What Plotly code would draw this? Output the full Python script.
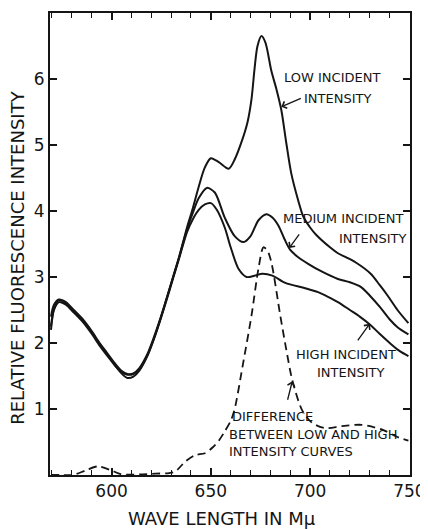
import plotly.graph_objects as go

# ---- data ----
common_x = [569.5, 571, 573.5, 577, 581, 585.5, 590, 594, 597.5, 602, 605, 608, 611,
            614, 618, 621, 624, 628, 631, 634, 638]

low_x = common_x + [641, 644, 647, 650, 654, 659, 662, 665.5, 668.5, 670.5, 672, 673.5,
                    675.5, 677.5, 680.5, 683, 685.5, 688, 690.5, 694, 696.5, 700, 703,
                    710, 714, 718, 723, 730.5, 735, 739, 744, 749.5]
low_y = [2.25, 2.52, 2.65, 2.6, 2.48, 2.34, 2.16, 1.98, 1.84, 1.65, 1.54, 1.47, 1.49,
         1.58, 1.8, 2.03, 2.3, 2.7, 3.0, 3.3, 3.75,
         4.05, 4.38, 4.66, 4.8, 4.74, 4.64, 4.78, 5.05, 5.35, 5.7, 6.15, 6.5,
         6.65, 6.55, 6.12, 5.85, 5.53, 5.03, 4.57, 4.16, 3.92, 3.75, 3.64,
         3.45, 3.36, 3.3, 3.22, 3.05, 2.88, 2.72, 2.5, 2.3]

medium_x = common_x + [641, 644, 648, 652, 657, 662, 666.5, 670, 674, 678, 681, 684, 687,
                       690, 694, 699, 706, 714, 720, 725.5, 730, 735, 740, 744, 749.5]
medium_y = [2.4, 2.58, 2.66, 2.62, 2.5, 2.36, 2.18, 2.0, 1.86, 1.68, 1.58, 1.53, 1.54,
            1.62, 1.83, 2.06, 2.32, 2.7, 3.0, 3.3, 3.72,
            3.98, 4.2, 4.35, 4.28, 3.9, 3.62, 3.53, 3.62, 3.86, 3.95, 3.9, 3.78, 3.58,
            3.41, 3.3, 3.2, 3.08, 2.97, 2.92, 2.85, 2.72, 2.55, 2.36, 2.24, 2.13]

high_x = common_x + [641, 644, 647, 650, 653, 657, 660, 664, 668, 672, 676, 681, 687.5,
                     697.5, 704, 709, 714, 720, 725, 730.5, 735, 740.5, 745, 749.5]
high_y = [2.2, 2.5, 2.62, 2.58, 2.46, 2.32, 2.14, 1.96, 1.82, 1.65, 1.56, 1.52, 1.53,
          1.6, 1.81, 2.04, 2.3, 2.68, 2.98, 3.28, 3.68,
          3.88, 4.02, 4.1, 4.12, 4.02, 3.75, 3.45, 3.12, 3.0, 3.02, 3.05, 3.02, 2.91,
          2.83, 2.77, 2.7, 2.62, 2.5, 2.4, 2.27, 2.14, 1.99, 1.88, 1.8]

diff_x = [569.5, 575, 580.5, 587, 593, 599, 605, 614, 622, 629, 632, 637, 642, 647, 651,
          654, 657, 660, 662, 666, 670.5, 674, 676.5, 678.5, 680.5, 685, 688, 691, 696,
          701, 707.5, 716, 726, 736, 744.5, 749.5]
diff_y = [0.0, 0.0, 0.0, 0.07, 0.13, 0.08, 0.01, 0.01, 0.02, 0.03, 0.05, 0.2, 0.3, 0.33,
          0.42, 0.52, 0.66, 0.82, 1.0, 1.65, 2.42, 3.13, 3.45, 3.4, 3.22, 2.41, 1.9, 1.44,
          0.98, 0.79, 0.71, 0.74, 0.76, 0.69, 0.57, 0.52]

x_ticks = [600, 650, 700, 750]
y_ticks = [1, 2, 3, 4, 5, 6]

INK = "#151515"
FONT = "DejaVu Sans"

fig = go.Figure()
for xs, ys, name in [(low_x, low_y, "Low incident intensity"),
                     (medium_x, medium_y, "Medium incident intensity"),
                     (high_x, high_y, "High incident intensity")]:
    fig.add_trace(go.Scatter(x=xs, y=ys, mode="lines", name=name,
                             line=dict(color=INK, width=2, shape="spline", smoothing=0.8),
                             showlegend=False))
fig.add_trace(go.Scatter(x=diff_x, y=diff_y, mode="lines", name="Difference",
                         line=dict(color=INK, width=1.8, dash="8px,5px",
                                   shape="spline", smoothing=0.8),
                         showlegend=False))

lab_font = dict(family=FONT, size=13, color=INK)
labels = [
    ("LOW INCIDENT", 686, 6.03),
    ("INTENSITY", 696, 5.71),
    ("MEDIUM INCIDENT", 685.5, 3.88),
    ("INTENSITY", 713.5, 3.59),
    ("HIGH INCIDENT", 692, 1.83),
    ("INTENSITY", 702.5, 1.55),
    ("DIFFERENCE", 659.5, 0.89),
    ("BETWEEN LOW AND HIGH", 658, 0.62),
    ("INTENSITY CURVES", 658, 0.35),
]
for t, x, y in labels:
    fig.add_annotation(x=x, y=y, text=t, showarrow=False, xanchor="left",
                       yanchor="middle", font=lab_font)

arrows = [  # head (x, y) in data, tail offset in px
    (685.5, 5.58, 21, -9),
    (689.5, 3.44, 11, -15),
    (730, 2.29, -13, 18),
    (691, 1.42, -5, 20),
]
for x, y, ax, ay in arrows:
    fig.add_annotation(x=x, y=y, ax=ax, ay=ay, text="", showarrow=True,
                       arrowhead=4, arrowsize=1.1, arrowwidth=1.3, arrowcolor=INK)

fig.add_annotation(xref="paper", yref="paper", x=-0.089, y=0.47,
                   text="RELATIVE FLUORESCENCE INTENSITY", textangle=-90,
                   showarrow=False, xanchor="center", yanchor="middle",
                   font=dict(family=FONT, size=18, color=INK))
fig.add_annotation(xref="paper", yref="paper", x=0.478, y=-0.095,
                   text="WAVE LENGTH IN Mμ", showarrow=False,
                   xanchor="center", yanchor="middle",
                   font=dict(family=FONT, size=18, color=INK))

axis_common = dict(showgrid=False, zeroline=False, showline=True, linewidth=2,
                   linecolor=INK, mirror="ticks", ticks="inside", tickcolor=INK,
                   tickwidth=1.6, automargin=False,
                   tickfont=dict(family=FONT, size=17, color=INK))
fig.update_xaxes(range=[569, 750.3], tickvals=x_ticks, ticklen=7,
                 minor=dict(dtick=10, tick0=570, ticks="inside", ticklen=5,
                            tickcolor=INK, tickwidth=1.3),
                 **axis_common)
fig.update_yaxes(range=[0, 7], tickvals=y_ticks, ticklen=7, **axis_common)

# the page body adds an 8px offset at top/left, so the figure is 8px smaller
fig.update_layout(width=420, height=521, margin=dict(l=42, r=18, t=5, b=54),
                  autosize=False,
                  paper_bgcolor="white", plot_bgcolor="white", showlegend=False)

fig.write_html("out.html")
